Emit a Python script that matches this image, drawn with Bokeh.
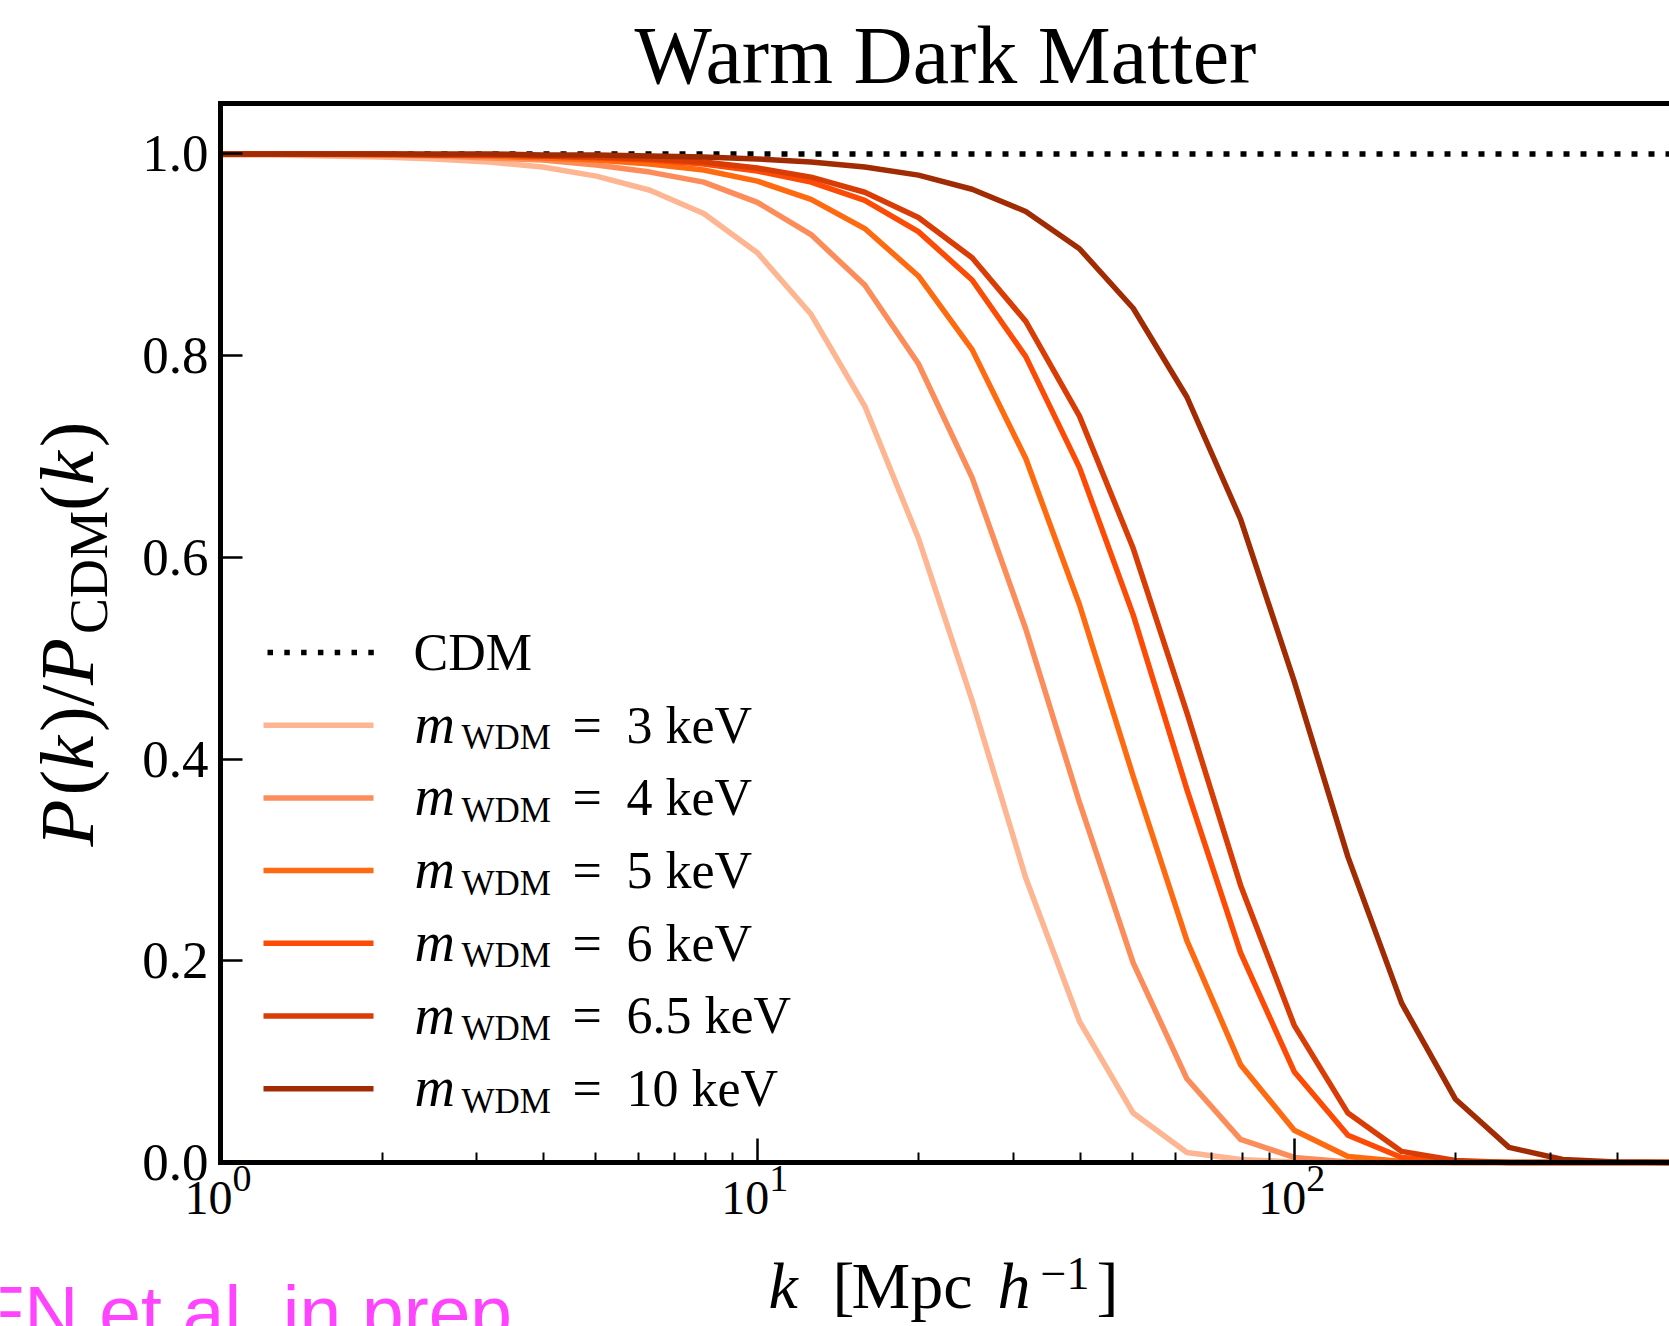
import math

from bokeh.embed import file_html
from bokeh.models import (BoxAnnotation, CustomJSTickFormatter, FixedTicker, Label,
                          LogAxis, PrintfTickFormatter, Range1d)
from bokeh.plotting import figure
from bokeh.resources import INLINE

# ---------------------------------------------------------------- data
# wavenumbers k [h/Mpc] on a 0.1 dex grid
k = [1.0, 1.259, 1.585, 1.995, 2.512, 3.162, 3.981, 5.012, 6.310, 7.943,
     10.0, 12.59, 15.85, 19.95, 25.12, 31.62, 39.81, 50.12, 63.10, 79.43,
     100.0, 125.9, 158.5, 199.5, 251.2, 316.2, 398.1, 501.2]

# P(k)/P_CDM(k) for each warm dark matter particle mass
ratio_3kev = [0.999, 0.999, 0.998, 0.997, 0.995, 0.992, 0.987, 0.978, 0.964, 0.941,
              0.902, 0.841, 0.750, 0.619, 0.458, 0.282, 0.140, 0.049, 0.010, 0.003,
              0.0005, 0.0, 0.0, 0.0, 0.0, 0.0, 0.0, 0.0]
ratio_4kev = [1.000, 1.000, 0.999, 0.999, 0.998, 0.996, 0.994, 0.989, 0.982, 0.972,
              0.952, 0.920, 0.870, 0.792, 0.679, 0.529, 0.357, 0.198, 0.083, 0.023,
              0.005, 0.0005, 0.0, 0.0, 0.0, 0.0, 0.0, 0.0]
ratio_5kev = [1.000, 1.000, 1.000, 0.999, 0.999, 0.998, 0.996, 0.994, 0.990, 0.984,
              0.973, 0.955, 0.926, 0.879, 0.806, 0.698, 0.553, 0.383, 0.220, 0.097,
              0.032, 0.006, 0.001, 0.0, 0.0, 0.0, 0.0, 0.0]
ratio_6kev = [1.000, 1.000, 1.000, 1.000, 0.999, 0.999, 0.998, 0.996, 0.994, 0.990,
              0.983, 0.972, 0.954, 0.923, 0.875, 0.799, 0.689, 0.543, 0.370, 0.208,
              0.090, 0.027, 0.005, 0.001, 0.0, 0.0, 0.0, 0.0]
ratio_6p5kev = [1.000, 1.000, 1.000, 1.000, 0.999, 0.999, 0.998, 0.997, 0.995, 0.992,
                0.986, 0.977, 0.962, 0.937, 0.897, 0.834, 0.740, 0.609, 0.446, 0.275,
                0.136, 0.049, 0.011, 0.002, 0.0, 0.0, 0.0, 0.0]
ratio_10kev = [1.000, 1.000, 1.000, 1.000, 1.000, 1.000, 0.999, 0.999, 0.998, 0.997,
               0.995, 0.992, 0.987, 0.979, 0.965, 0.943, 0.906, 0.847, 0.759, 0.638,
               0.477, 0.303, 0.158, 0.063, 0.015, 0.003, 0.0005, 0.0]
ratio_cdm = [1.0] * len(k)

masses = ["3", "4", "5", "6", "6.5", "10"]
series = [ratio_3kev, ratio_4kev, ratio_5kev, ratio_6kev, ratio_6p5kev, ratio_10kev]
colors = ["#fdb592", "#fc8d5a", "#ff6a10", "#fd4a05", "#d93c05", "#a12c04"]

x_ticks = [1, 10, 100]
x_tick_powers = ["0", "1", "2"]
x_minor_ticks = [2, 3, 4, 5, 6, 7, 8, 9, 20, 30, 40, 50, 60, 70, 80, 90, 200, 300, 400]
y_ticks = [0.0, 0.2, 0.4, 0.6, 0.8, 1.0]

# ---------------------------------------------------------------- geometry
W, H = 1669, 1326
# pixel box of the axes inside the canvas and the data limits it shows
AX_L, AX_R, AX_T, AX_B = 220, 1669, 103, 1162
X_LO, X_HI = 1.0, 500.0
Y_LO, Y_HI = 0.0, 1.05

px_per_dec = (AX_R - AX_L) / math.log10(X_HI / X_LO)
x_start = 10 ** (math.log10(X_LO) - AX_L / px_per_dec)
x_end = 10 ** (math.log10(X_HI) + (W - AX_R) / px_per_dec)
px_per_unit = (AX_B - AX_T) / (Y_HI - Y_LO)
y_start = Y_LO - (H - AX_B) / px_per_unit
y_end = Y_HI + AX_T / px_per_unit

SERIF = "Liberation Serif"
SANS = "Liberation Sans"
LW = 5.5
BASE_SHIFT = 0.33   # alphabetic-baseline correction, in em

p = figure(width=W, height=H, x_axis_type="log",
           x_range=Range1d(x_start, x_end), y_range=Range1d(y_start, y_end),
           output_backend="svg", toolbar_location=None, title=None, min_border=0)
p.outline_line_color = None
p.xgrid.visible = False
p.ygrid.visible = False
p.background_fill_color = "white"
p.border_fill_color = "white"

xa = p.xaxis[0]
xa.fixed_location = Y_LO
xa.bounds = (X_LO, X_HI)
xa.ticker = FixedTicker(ticks=x_ticks, minor_ticks=x_minor_ticks)
xa.formatter = CustomJSTickFormatter(code="return '';")
xa.axis_line_width = 5
xa.axis_line_cap = "square"
xa.major_tick_in = 24
xa.major_tick_out = 0
xa.minor_tick_in = 10
xa.minor_tick_out = 0
xa.major_tick_line_width = 2.5
xa.minor_tick_line_width = 2

ya = p.yaxis[0]
ya.fixed_location = X_LO
ya.bounds = (Y_LO, Y_HI)
ya.ticker = FixedTicker(ticks=y_ticks)
ya.formatter = PrintfTickFormatter(format="%.1f")
ya.axis_line_width = 5
ya.axis_line_cap = "square"
ya.major_tick_in = 22
ya.major_tick_out = 0
ya.minor_tick_line_color = None
ya.major_tick_line_width = 2.5
ya.major_label_standoff = 12
ya.major_label_text_font = SERIF
ya.major_label_text_font_size = "53px"
ya.major_label_text_color = "black"

top = LogAxis(fixed_location=Y_HI, bounds=(X_LO, X_HI), ticker=FixedTicker(ticks=[]),
              axis_line_width=5, axis_line_cap="square",
              major_tick_line_color=None, minor_tick_line_color=None,
              major_label_text_font_size="0px")
p.add_layout(top, "above")

# ---------------------------------------------------------------- curves
p.line(k, ratio_cdm, line_color="black", line_width=LW, line_dash="6 11")
for ys, c in zip(series, colors):
    p.line(k, ys, line_color=c, line_width=LW, line_join="round")


def put(x, y, s, size, style="normal", align="left", rotated=False, color="black",
        font=SERIF, x_units="canvas", x_offset=0):
    """Place text with its alphabetic baseline at canvas position (x, y)."""
    shift = BASE_SHIFT * size
    if rotated:
        x, angle = x - shift, math.pi / 2
    else:
        y, angle = y - shift, 0.0
    p.add_layout(Label(x=x, y=y, x_units=x_units, y_units="canvas", text=s,
                       text_font=font, text_font_size=f"{size}px", text_font_style=style,
                       text_align=align, text_baseline="alphabetic", angle=angle,
                       text_color=color, x_offset=x_offset))


# title
put(945, 82, "Warm Dark Matter", 82, align="center")

# x tick labels 10^n
for t, n in zip(x_ticks, x_tick_powers):
    put(t, 1213, "10", 48, align="right", x_units="data", x_offset=12)
    put(t, 1191, n, 38, align="left", x_units="data", x_offset=12)

# x axis label: k [Mpc h^-1]
put(768, 1307, "k", 66, style="italic")
put(832, 1307, "[", 66)
put(851, 1307, "Mpc", 66)
put(997, 1307, "h", 66, style="italic")
put(1040, 1288, "\u22121", 46)
put(1096, 1307, "]", 66)

# y axis label: P(k)/P_CDM(k), reading upwards; pieces laid out by advance width
YL_MAIN, YL_SUB = 77, 54
ylab = [("P", "italic", 0.611, False), ("(", "normal", 0.333, False),
        ("k", "italic", 0.444, False), (")", "normal", 0.333, False),
        ("/", "normal", 0.278, False), ("P", "italic", 0.611, False),
        ("CDM", "normal", 2.278, True), ("(", "normal", 0.333, False),
        ("k", "italic", 0.444, False), (")", "normal", 0.333, False)]
pos = 846.0
for s, st, adv, sub in ylab:
    size = YL_SUB if sub else YL_MAIN
    put(106 if sub else 92, pos, s, size, style=st, rotated=True)
    pos -= adv * size + (0.05 * size if st == "italic" else 0.0)

# legend
row0, drow = 652, 72.7


def key_box(left, right, yc, color):
    p.add_layout(BoxAnnotation(left=left, right=right, top=yc - LW / 2, bottom=yc + LW / 2,
                               left_units="canvas", right_units="canvas",
                               top_units="canvas", bottom_units="canvas",
                               fill_color=color, fill_alpha=1.0, line_color=None))


for i in range(7):
    x0 = 267 + i * 16.8
    key_box(x0, x0 + 5.5, row0, "black")
put(413, row0 + 17, "CDM", 52)
for i, (m, c) in enumerate(zip(masses, colors)):
    yc = row0 + (i + 1) * drow
    key_box(263, 373, yc, c)
    put(414, yc + 17, "m", 56, style="italic")
    put(461, yc + 24, "WDM", 35)
    put(572, yc + 17, "=", 52)
    put(626, yc + 17, f"{m} keV", 52)

# footnote
put(-22, 1336, "FN et al. in prep", 75, font=SANS, color="#ff44ff")

open("out.html", "w").write(file_html(p, INLINE))
